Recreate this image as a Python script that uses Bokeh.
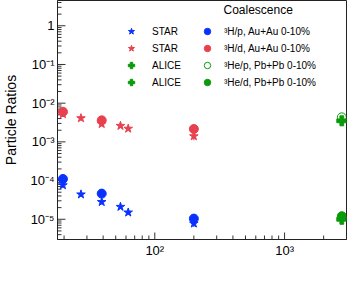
import math
from bokeh.plotting import figure
from bokeh.models import (Range1d, CustomJSTickFormatter, Legend, LegendItem, Label)
from bokeh.embed import file_html
from bokeh.resources import INLINE

# ---- data ----
star_energy = [19.6, 27, 39, 54.4, 62.4, 200]
star_H3_p = [7.6e-5, 4.4e-5, 2.8e-5, 2.1e-5, 1.5e-5, 7.8e-6]
star_H3_p_err = [1.2e-5, 5e-6, 4e-6, 2.5e-6, 2e-6, 1.5e-6]
star_H3_d = [5.2e-3, 4.1e-3, 2.9e-3, 2.6e-3, 2.2e-3, 1.4e-3]
star_H3_d_err = [8e-4, 4e-4, 4e-4, 3e-4, 2.5e-4, 3e-4]

coal_energy = [19.6, 39, 200]
coal_H3_p = [1.1e-4, 4.6e-5, 1.04e-5]
coal_H3_d = [6.0e-3, 3.6e-3, 2.15e-3]

alice_energy = [2760]
alice_He3_p = [3.5e-3]
alice_He3_p_err = [8e-4]
alice_He3_d = [1.0e-5]
alice_He3_d_err = [2e-6]
coal_He3_p = [4.3e-3]
coal_He3_d = [1.2e-5]

x_decades = [1, 2, 3]
y_decades = [-6, -5, -4, -3, -2, -1, 0]

BLUE = "#0a32ff"
RED = "#e8404f"
GREEN = "#0a9a0a"
FONT = "Liberation Sans"
X0, X1 = 17.8, 3000
Y0, Y1 = 3e-6, 4.5

p = figure(width=347, height=284, x_axis_type="log", y_axis_type="log",
           x_range=Range1d(X0, X1), y_range=Range1d(Y0, Y1),
           output_backend="svg", toolbar_location=None,
           min_border_left=45, min_border_right=1, min_border_top=0, min_border_bottom=45)
p.grid.visible = False
p.outline_line_color = "#222222"

fmt = CustomJSTickFormatter(code="""
const sup = {'-':'\u207b','0':'\u2070','1':'\u00b9','2':'\u00b2','3':'\u00b3','4':'\u2074','5':'\u2075','6':'\u2076','7':'\u2077','8':'\u2078','9':'\u2079'};
const e = Math.round(Math.log10(tick));
if (e == 0) { return '1'; }
return '10' + String(e).split('').map(c => sup[c]).join('');
""")
p.xaxis.formatter = fmt
p.yaxis.formatter = fmt
for ax in (p.xaxis, p.yaxis):
    ax.major_tick_out = 0
    ax.minor_tick_out = 0
    ax.major_tick_in = 0
    ax.minor_tick_in = 0
    ax.axis_line_color = "#222222"
    ax.major_label_text_font = FONT
    ax.major_label_text_font_size = "13px"
    ax.major_label_text_color = "black"
    ax.axis_label_text_font = FONT
    ax.axis_label_text_font_style = "normal"
    ax.axis_label_text_font_size = "14px"
    ax.axis_label_text_color = "black"
    ax.major_label_standoff = 3
p.yaxis.axis_label = "Particle Ratios"
p.yaxis.axis_label_standoff = 8

# inward ticks drawn as short screen-length rays from the frame edges
y_major = [10.0 ** k for k in y_decades if Y0 <= 10.0 ** k <= Y1]
y_minor = [m * 10.0 ** k for k in y_decades for m in range(2, 10) if Y0 <= m * 10.0 ** k <= Y1]
x_major = [10.0 ** k for k in x_decades if X0 <= 10.0 ** k <= X1]
x_minor = [m * 10.0 ** k for k in x_decades for m in range(2, 10) if X0 <= m * 10.0 ** k <= X1]
TICK = "#333333"
p.ray(x=[X0] * len(y_major), y=y_major, length=8, length_units="screen", angle=0, line_color=TICK, line_width=1)
p.ray(x=[X0] * len(y_minor), y=y_minor, length=4, length_units="screen", angle=0, line_color=TICK, line_width=1)
p.ray(x=x_major, y=[Y0] * len(x_major), length=7, length_units="screen", angle=math.pi / 2, line_color=TICK, line_width=1)
p.ray(x=x_minor, y=[Y0] * len(x_minor), length=4, length_units="screen", angle=math.pi / 2, line_color=TICK, line_width=1)

# error bars
def errs(v, e):
    return [a - b for a, b in zip(v, e)], [a + b for a, b in zip(v, e)]

lo, hi = errs(star_H3_p, star_H3_p_err)
p.segment(star_energy, lo, star_energy, hi, line_color=BLUE, line_width=1)
lo, hi = errs(star_H3_d, star_H3_d_err)
p.segment(star_energy, lo, star_energy, hi, line_color=RED, line_width=1)
lo, hi = errs(alice_He3_p, alice_He3_p_err)
p.segment(alice_energy, lo, alice_energy, hi, line_color=GREEN, line_width=1)
lo, hi = errs(alice_He3_d, alice_He3_d_err)
p.segment(alice_energy, lo, alice_energy, hi, line_color=GREEN, line_width=1)

r_bs = p.scatter(star_energy, star_H3_p, marker="star", size=9, fill_color=BLUE, line_color=BLUE)
r_rs = p.scatter(star_energy, star_H3_d, marker="star", size=9, fill_color=RED, line_color=RED)
r_ap = p.scatter(alice_energy, alice_He3_p, marker="plus", size=10, fill_color=GREEN, line_color=GREEN)
r_ad = p.scatter(alice_energy, alice_He3_d, marker="plus", size=10, fill_color=GREEN, line_color=GREEN)

r_bc = p.scatter(coal_energy, coal_H3_p, marker="circle", size=9, fill_color=BLUE, line_color=BLUE)
r_rc = p.scatter(coal_energy, coal_H3_d, marker="circle", size=9, fill_color=RED, line_color=RED)
r_gp = p.scatter(alice_energy, coal_He3_p, marker="circle", size=9, fill_color="white", fill_alpha=0,
                 line_color=GREEN, line_width=1)
r_gd = p.scatter(alice_energy, coal_He3_d, marker="circle", size=9, fill_color=GREEN, line_color=GREEN)

def style_legend(lg, standoff):
    lg.background_fill_alpha = 0
    lg.border_line_alpha = 0
    lg.padding = 0
    lg.margin = 0
    lg.spacing = 1
    lg.glyph_width = 16
    lg.glyph_height = 16
    lg.label_height = 16
    lg.label_standoff = standoff
    lg.label_text_font = FONT
    lg.label_text_font_size = "10px"
    lg.label_text_color = "black"
    lg.label_text_baseline = "middle"

leg1 = Legend(items=[LegendItem(label="STAR", renderers=[r_bs]),
                     LegendItem(label="STAR", renderers=[r_rs]),
                     LegendItem(label="ALICE", renderers=[r_ap]),
                     LegendItem(label="ALICE", renderers=[r_ad])],
              location=(66, 149))
style_legend(leg1, 13)
p.add_layout(leg1)

leg2 = Legend(items=[LegendItem(label="\u00b3H/p, Au+Au 0-10%", renderers=[r_bc]),
                     LegendItem(label="\u00b3H/d, Au+Au 0-10%", renderers=[r_rc]),
                     LegendItem(label="\u00b3He/p, Pb+Pb 0-10%", renderers=[r_gp]),
                     LegendItem(label="\u00b3He/d, Pb+Pb 0-10%", renderers=[r_gd])],
              location=(142, 149))
style_legend(leg2, 9)
p.add_layout(leg2)

p.add_layout(Label(x=166, y=230, x_units="screen", y_units="screen", text="Coalescence",
                   text_font=FONT, text_font_size="12px", text_baseline="middle", text_color="black"))

# x axis title pieces
p.add_layout(Label(x=120, y=-34, x_units="screen", y_units="screen", text="\u221a",
                   text_font=FONT, text_font_size="14px", text_baseline="alphabetic", text_color="black"))
p.add_layout(Label(x=123, y=-34, x_units="screen", y_units="screen", text="s",
                   text_font=FONT, text_font_size="14px", text_font_style="italic",
                   text_baseline="alphabetic", text_color="black"))
p.add_layout(Label(x=130, y=-37, x_units="screen", y_units="screen", text="NN",
                   text_font=FONT, text_font_size="9px", text_baseline="alphabetic", text_color="black"))
p.add_layout(Label(x=146, y=-34, x_units="screen", y_units="screen", text="(GeV)",
                   text_font=FONT, text_font_size="14px", text_baseline="alphabetic", text_color="black"))

open("out.html", "w").write(file_html(p, INLINE))
